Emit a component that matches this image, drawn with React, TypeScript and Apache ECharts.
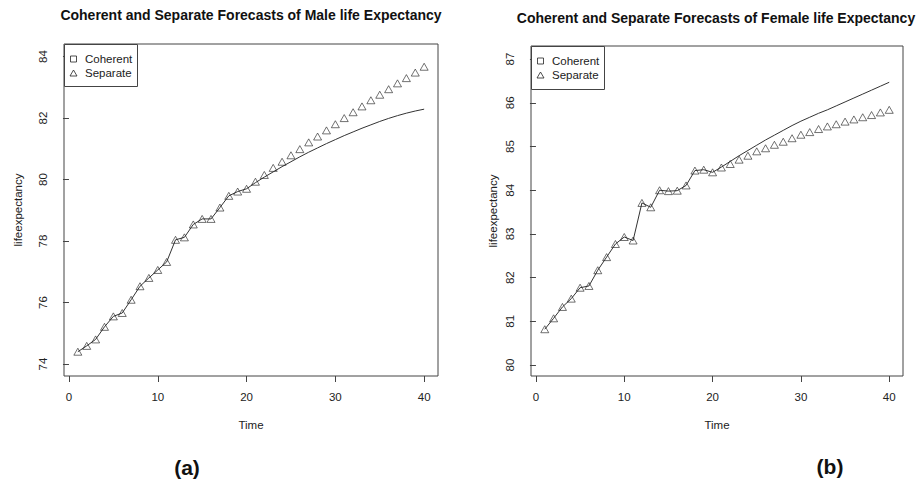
import React, { useEffect, useRef } from "react";
import * as echarts from "echarts";

const times = [1,2,3,4,5,6,7,8,9,10,11,12,13,14,15,16,17,18,19,20,21,22,23,24,25,26,27,28,29,30,31,32,33,34,35,36,37,38,39,40];

const maleSeparate = [74.40,74.59,74.80,75.21,75.55,75.66,76.09,76.53,76.80,77.06,77.32,78.04,78.12,78.54,78.72,78.72,79.09,79.47,79.61,79.70,79.93,80.15,80.38,80.58,80.79,80.99,81.21,81.40,81.60,81.80,82.00,82.19,82.38,82.58,82.76,82.94,83.13,83.30,83.48,83.67];
const maleCoherent = [74.40,74.59,74.80,75.21,75.55,75.66,76.09,76.53,76.80,77.06,77.32,78.04,78.12,78.54,78.72,78.72,79.09,79.47,79.61,79.70,79.90,80.08,80.25,80.42,80.58,80.74,80.89,81.03,81.17,81.30,81.43,81.55,81.67,81.78,81.89,81.99,82.08,82.16,82.23,82.29];

const femaleSeparate = [80.82,81.07,81.33,81.52,81.77,81.81,82.17,82.47,82.77,82.93,82.85,83.71,83.61,84.00,83.98,83.99,84.11,84.45,84.47,84.41,84.52,84.60,84.70,84.79,84.89,84.96,85.04,85.11,85.19,85.27,85.33,85.40,85.46,85.51,85.57,85.62,85.67,85.72,85.78,85.84];
const femaleCoherent = [80.82,81.07,81.33,81.52,81.77,81.81,82.17,82.47,82.77,82.93,82.85,83.71,83.61,84.00,83.98,83.99,84.11,84.45,84.47,84.41,84.53,84.66,84.79,84.91,85.03,85.15,85.26,85.37,85.48,85.58,85.67,85.76,85.84,85.93,86.02,86.11,86.20,86.29,86.38,86.47];

const xTicks = [0, 10, 20, 30, 40];
const maleYTicks = [74, 76, 78, 80, 82, 84];
const femaleYTicks = [80, 81, 82, 83, 84, 85, 86, 87];

const titles = [
  "Coherent and Separate Forecasts of Male life Expectancy",
  "Coherent and Separate Forecasts of Female life Expectancy",
];
const panelLabels = ["(a)", "(b)"];
const seriesNames = ["Coherent", "Separate"];

const FONT = "'Liberation Sans', Arial, Helvetica, sans-serif";
const INK = "#222";
const BOX = "#444";

function xAxis(gridIndex: number) {
  return {
    type: "value",
    gridIndex,
    min: -0.56,
    max: 41.56,
    name: "Time",
    nameLocation: "middle",
    nameGap: 43,
    nameTextStyle: { fontFamily: FONT, fontSize: 11.5, color: INK },
    axisLine: { show: false },
    splitLine: { show: false },
    axisTick: { show: true, length: 6, customValues: xTicks, lineStyle: { color: BOX, width: 1 } },
    axisLabel: { customValues: xTicks, margin: 15, fontFamily: FONT, fontSize: 11.5, color: INK },
  };
}

function yAxis(gridIndex: number, min: number, max: number, ticks: number[], nameGap: number, labelMargin: number) {
  return {
    type: "value",
    gridIndex,
    min,
    max,
    name: "lifeexpectancy",
    nameLocation: "middle",
    nameGap,
    nameTextStyle: { fontFamily: FONT, fontSize: 11.5, color: INK },
    axisLine: { show: false },
    splitLine: { show: false },
    axisTick: { show: true, length: 6, customValues: ticks, lineStyle: { color: BOX, width: 1 } },
    axisLabel: { customValues: ticks, rotate: 90, margin: labelMargin, fontFamily: FONT, fontSize: 11.5, color: INK },
  };
}

function legendGraphic(x: number, y: number, w: number, h: number) {
  const sx = x + 9.5;
  const tx = x + 21;
  const y1 = y + 15;
  const y2 = y + 29;
  return [
    { type: "rect", shape: { x: x + 0.5, y: y + 0.5, width: w, height: h }, style: { fill: "#fff", stroke: BOX, lineWidth: 1 }, z: 10 },
    { type: "rect", shape: { x: sx - 3, y: y1 - 3, width: 6, height: 6 }, style: { fill: "none", stroke: INK, lineWidth: 0.8 }, z: 11 },
    { type: "polygon", shape: { points: [[sx - 3.5, y2 + 3], [sx + 3.5, y2 + 3], [sx, y2 - 3]] }, style: { fill: "none", stroke: INK, lineWidth: 0.8 }, z: 11 },
    { type: "text", x: tx, y: y1, style: { text: seriesNames[0], fontFamily: FONT, fontSize: 11.5, fill: INK, verticalAlign: "middle" }, z: 11 },
    { type: "text", x: tx, y: y2, style: { text: seriesNames[1], fontFamily: FONT, fontSize: 11.5, fill: INK, verticalAlign: "middle" }, z: 11 },
  ];
}

function zip(vals: number[]) {
  return times.map((t, i) => [t, vals[i]]);
}

function lineSeries(idx: number, vals: number[]) {
  return {
    name: seriesNames[0],
    type: "line",
    xAxisIndex: idx,
    yAxisIndex: idx,
    data: zip(vals),
    showSymbol: false,
    symbol: "none",
    lineStyle: { color: "#333", width: 1 },
    z: 2,
  };
}

function pointSeries(idx: number, vals: number[]) {
  return {
    name: seriesNames[1],
    type: "scatter",
    xAxisIndex: idx,
    yAxisIndex: idx,
    data: zip(vals),
    symbol: "triangle",
    symbolSize: [8, 7],
    itemStyle: { color: "transparent", borderColor: INK, borderWidth: 0.8 },
    z: 3,
  };
}

export default function App() {
  const ref = useRef<HTMLDivElement>(null);
  useEffect(() => {
    if (!ref.current) return;
    const chart = echarts.init(ref.current, undefined, { renderer: "svg" });
    const option = {
      animation: false,
      backgroundColor: "#fff",
      title: [
        { text: titles[0], left: 251, top: 8, textAlign: "center", padding: 0, textStyle: { fontFamily: FONT, fontSize: 14, fontWeight: "bold", color: "#111" } },
        { text: titles[1], left: 716, top: 11, textAlign: "center", padding: 0, textStyle: { fontFamily: FONT, fontSize: 14, fontWeight: "bold", color: "#111" } },
        { text: panelLabels[0], left: 187, top: 457, textAlign: "center", padding: 0, textStyle: { fontFamily: FONT, fontSize: 21, fontWeight: "bold", color: "#111" } },
        { text: panelLabels[1], left: 830, top: 456, textAlign: "center", padding: 0, textStyle: { fontFamily: FONT, fontSize: 21, fontWeight: "bold", color: "#111" } },
      ],
      grid: [
        { left: 64, top: 44, width: 374, height: 332, show: true, borderColor: BOX, borderWidth: 1, backgroundColor: "transparent" },
        { left: 531, top: 46, width: 372, height: 330, show: true, borderColor: BOX, borderWidth: 1, backgroundColor: "transparent" },
      ],
      xAxis: [xAxis(0), xAxis(1)],
      yAxis: [yAxis(0, 73.61, 84.41, maleYTicks, 40, 15), yAxis(1, 79.75, 87.3, femaleYTicks, 32, 15)],
      series: [
        lineSeries(0, maleCoherent),
        pointSeries(0, maleSeparate),
        lineSeries(1, femaleCoherent),
        pointSeries(1, femaleSeparate),
      ],
      graphic: [...legendGraphic(64, 44, 73, 42), ...legendGraphic(531, 46, 73, 43)],
    };
    chart.setOption(option as any);
    return () => chart.dispose();
  }, []);
  return <div ref={ref} style={{ position: "fixed", left: 0, top: 0, width: 920, height: 482 }} />;
}
